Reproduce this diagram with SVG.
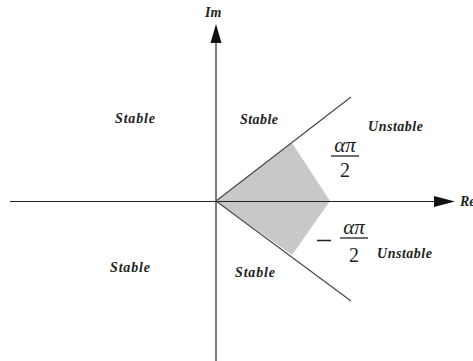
<svg xmlns="http://www.w3.org/2000/svg" width="473" height="361" viewBox="0 0 473 361">
<style>
.ax{stroke:#222;stroke-width:1.2;fill:none}
.ray{stroke:#444;stroke-width:1.1;fill:none}
.lbl{font-family:"Liberation Serif",serif;font-weight:bold;font-style:italic;font-size:14px;fill:#222}
.m{font-family:"Liberation Serif",serif;font-size:20px;fill:#222}
.mi{font-style:italic;font-size:21px}
</style>
<rect width="473" height="361" fill="#fff"/>
<g id="region">
<polygon points="216,201 292,143 330,201 292,255" fill="#c8c8c8"/>
</g>
<g id="connectors">
<line class="ax" x1="216" y1="40" x2="216" y2="361"/>
<line class="ax" x1="10" y1="201.5" x2="440" y2="201.5"/>
<polygon points="216,24 210.5,43 221.5,43" fill="#111"/>
<polygon points="455,201.5 434,196 434,207" fill="#111"/>
<line class="ray" x1="216" y1="201" x2="351" y2="97"/>
<line class="ray" x1="216" y1="201" x2="351" y2="301"/>
</g>
<g id="labels">
<text class="lbl" x="205" y="17" font-size="13">Im</text>
<text class="lbl" x="460" y="206" font-size="13">Re</text>
<text class="lbl" x="115" y="123" textLength="40">Stable</text>
<text class="lbl" x="240" y="124" textLength="38">Stable</text>
<text class="lbl" x="368" y="131" textLength="55">Unstable</text>
<text class="lbl" x="110" y="272" textLength="40">Stable</text>
<text class="lbl" x="235" y="277" textLength="40">Stable</text>
<text class="lbl" x="377" y="258" textLength="55">Unstable</text>
</g>
<g id="frac-upper">
<text class="m mi" x="345" y="152" text-anchor="middle">απ</text>
<line x1="331" y1="156" x2="359" y2="156" stroke="#222" stroke-width="1.3"/>
<text class="m" x="345" y="177" text-anchor="middle">2</text>
</g>
<g id="frac-lower">
<line x1="317" y1="240.5" x2="331" y2="240.5" stroke="#222" stroke-width="1.5"/>
<text class="m mi" x="354" y="234" text-anchor="middle">απ</text>
<line x1="340" y1="238" x2="368" y2="238" stroke="#222" stroke-width="1.3"/>
<text class="m" x="354" y="262" text-anchor="middle">2</text>
</g>
</svg>
